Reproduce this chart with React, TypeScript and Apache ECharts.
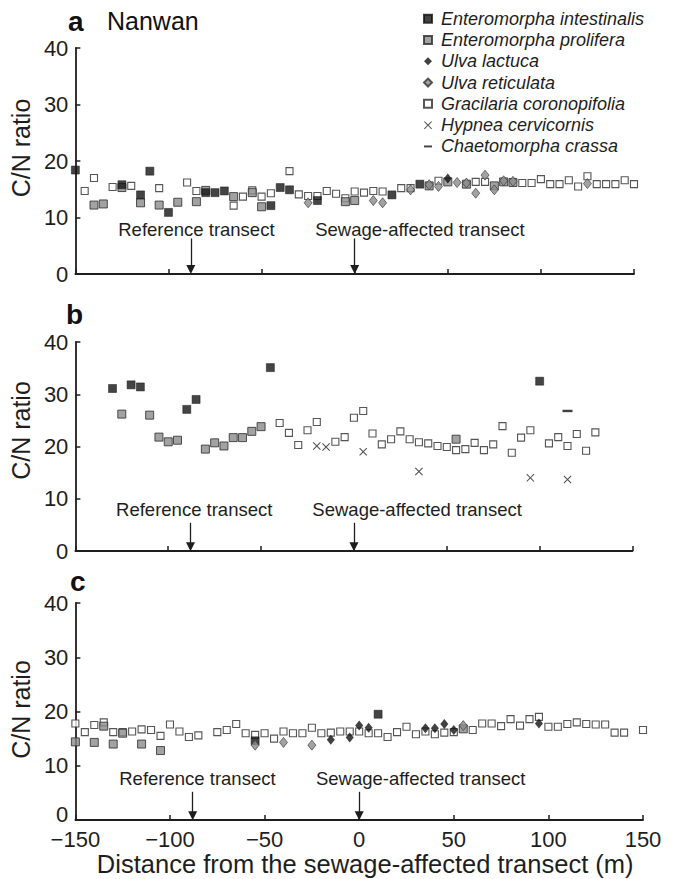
import React, { useEffect, useRef } from "react";
import * as echarts from "echarts";

// ---- categories ----
const SPECIES = [
  "Enteromorpha intestinalis",
  "Enteromorpha prolifera",
  "Ulva lactuca",
  "Ulva reticulata",
  "Gracilaria coronopifolia",
  "Hypnea cervicornis",
  "Chaetomorpha crassa",
];
const PANEL_LETTERS = ["a", "b", "c"];
const SITE_NAME = "Nanwan";
const TRANSECT_LABELS = ["Reference transect", "Sewage-affected transect"];
const TRANSECT_X = [-88, 0]; // m, position of the two transects
const X_TICK_STEP = 50;
const Y_TICK_STEP = 10;
const X_RANGE = [-150, 150];
const Y_RANGE = [0, 40];

// ---- panel a (Nanwan): [distance m, C/N ratio] ----
const A_INTESTINALIS = [[-150, 18.4], [-125, 15.8], [-115, 14.0], [-110, 18.2], [-100, 10.9], [-80, 14.4], [-75, 14.4], [-70, 14.7], [-45, 12.1], [-40, 15.3], [-35, 14.9], [-20, 13.0], [20, 14.0], [35, 15.9]];
const A_PROLIFERA = [[-140, 12.2], [-135, 12.4], [-125, 15.3], [-115, 12.6], [-105, 12.2], [-95, 12.7], [-85, 12.8], [-80, 14.8], [-65, 13.7], [-55, 14.4], [-50, 11.9], [-5, 12.8], [0, 13.0], [40, 15.6], [50, 16.3], [60, 15.9], [75, 15.6], [80, 16.3], [85, 16.2]];
const A_LACTUCA = [[50, 16.9]];
const A_RETICULATA = [[-25, 12.6], [10, 13.0], [15, 12.6], [30, 14.9], [40, 15.8], [45, 15.5], [55, 16.2], [60, 16.1], [65, 14.3], [70, 17.5], [75, 14.9], [80, 16.5], [85, 16.4], [125, 16.0]];
const A_GRACILARIA = [[-145, 14.7], [-140, 17.0], [-130, 15.4], [-120, 15.6], [-105, 15.2], [-90, 16.2], [-85, 14.7], [-65, 12.1], [-60, 13.7], [-55, 14.8], [-50, 13.7], [-45, 14.3], [-35, 18.2], [-30, 14.1], [-25, 13.8], [-20, 13.8], [-15, 14.7], [-10, 14.2], [-5, 13.4], [0, 14.6], [5, 14.4], [10, 14.7], [15, 14.6], [25, 15.2], [30, 15.2], [45, 16.5], [65, 16.3], [70, 16.3], [90, 16.1], [95, 16.1], [100, 16.8], [105, 15.9], [110, 15.9], [115, 16.6], [120, 15.5], [125, 17.3], [130, 15.9], [135, 15.9], [140, 15.9], [145, 16.6], [150, 15.9]];
const A_HYPNEA: number[][] = [];
const A_CHAETOMORPHA: number[][] = [];

// ---- panel b ----
const B_INTESTINALIS = [[-130, 31.1], [-120, 31.8], [-115, 31.4], [-90, 27.1], [-85, 29.0], [-45, 35.1], [100, 32.5]];
const B_PROLIFERA = [[-125, 26.2], [-110, 26.0], [-105, 21.8], [-100, 20.9], [-95, 21.2], [-80, 19.5], [-75, 20.7], [-70, 20.1], [-65, 21.7], [-60, 21.7], [-55, 22.9], [-50, 23.8], [55, 21.4]];
const B_LACTUCA: number[][] = [];
const B_RETICULATA: number[][] = [];
const B_GRACILARIA = [[-40, 24.5], [-35, 22.6], [-30, 20.3], [-25, 23.1], [-20, 24.7], [-10, 20.9], [-5, 21.8], [0, 25.5], [5, 26.8], [10, 22.5], [15, 20.4], [20, 21.4], [25, 22.9], [30, 21.4], [35, 20.8], [40, 20.6], [45, 20.1], [50, 19.9], [55, 19.3], [60, 19.5], [65, 20.7], [70, 19.3], [75, 20.4], [80, 23.9], [85, 18.8], [90, 21.7], [95, 23.1], [105, 20.6], [110, 21.8], [115, 20.1], [120, 22.4], [125, 19.2], [130, 22.7]];
const B_HYPNEA = [[-20, 20.1], [-15, 19.9], [5, 19.0], [35, 15.2], [95, 14.0], [115, 13.7]];
const B_CHAETOMORPHA = [[115, 26.8]];

// ---- panel c ----
const C_INTESTINALIS = [[-55, 14.6], [10, 19.5]];
const C_PROLIFERA = [[-150, 14.4], [-140, 14.3], [-135, 17.3], [-130, 14.0], [-125, 16.0], [-115, 14.0], [-105, 12.8], [55, 16.8]];
const C_LACTUCA = [[-15, 14.8], [-5, 15.2], [0, 17.4], [5, 17.0], [35, 16.9], [40, 16.9], [45, 17.7], [50, 16.6], [95, 17.8]];
const C_RETICULATA = [[-55, 13.8], [-40, 14.3], [-25, 13.8], [55, 17.4]];
const C_GRACILARIA = [[-150, 17.8], [-145, 16.2], [-140, 17.5], [-135, 18.0], [-130, 16.2], [-125, 16.2], [-120, 16.3], [-115, 16.7], [-110, 16.6], [-105, 15.5], [-100, 17.6], [-95, 16.3], [-90, 15.3], [-85, 15.6], [-75, 16.2], [-70, 16.6], [-65, 17.7], [-60, 16.0], [-55, 15.7], [-50, 16.0], [-45, 15.0], [-40, 16.3], [-35, 16.0], [-30, 16.0], [-25, 17.0], [-20, 16.0], [-15, 16.1], [-10, 16.3], [-5, 16.3], [0, 16.3], [5, 16.0], [10, 16.0], [15, 15.3], [20, 16.2], [25, 17.2], [30, 15.8], [35, 16.3], [40, 15.8], [45, 16.1], [50, 16.2], [60, 16.6], [65, 17.8], [70, 17.8], [75, 17.3], [80, 18.6], [85, 17.4], [90, 18.6], [95, 19.0], [100, 17.2], [105, 17.2], [110, 17.7], [115, 18.0], [120, 17.7], [125, 17.6], [130, 17.6], [135, 16.1], [140, 16.1], [150, 16.6]];
const C_HYPNEA: number[][] = [];
const C_CHAETOMORPHA: number[][] = [];

// per panel, in SPECIES order
const PANEL_DATA = [
  [A_INTESTINALIS, A_PROLIFERA, A_LACTUCA, A_RETICULATA, A_GRACILARIA, A_HYPNEA, A_CHAETOMORPHA],
  [B_INTESTINALIS, B_PROLIFERA, B_LACTUCA, B_RETICULATA, B_GRACILARIA, B_HYPNEA, B_CHAETOMORPHA],
  [C_INTESTINALIS, C_PROLIFERA, C_LACTUCA, C_RETICULATA, C_GRACILARIA, C_HYPNEA, C_CHAETOMORPHA],
];

// ---- layout ----
const FONT = "'Liberation Sans', Arial, Helvetica, sans-serif";
const INK = "#1e1e1e";
const GRIDS = [
  { left: 69.5, top: 48, width: 564.5, height: 226 },
  { left: 66.5, top: 342, width: 566, height: 209 },
  { left: 71.5, top: 603, width: 571.5, height: 217 },
];
// where the transect labels and arrows sit in data units, per panel
const ANNOT = [
  { labelY: 7.9, refLabelX: -85, sewLabelX: 35, arrowTop: 6.3 },
  { labelY: 8.0, refLabelX: -86, sewLabelX: 34, arrowTop: 5.4 },
  { labelY: 7.7, refLabelX: -85.5, sewLabelX: 32.5, arrowTop: 5.2 },
];
const NAME_SHIFT = [26, 32, 4];

const CROSS =
  "path://M0,0.9L0.9,0L5,4.1L9.1,0L10,0.9L5.9,5L10,9.1L9.1,10L5,5.9L0.9,10L0,9.1L4.1,5Z";
const DASH = "path://M0,0H10V2.4H0Z";

const STYLES: Record<string, any> = {
  "Enteromorpha intestinalis": { symbol: "rect", symbolSize: 8, itemStyle: { color: "#151515", borderColor: "#111", borderWidth: 0.6 }, z: 4 },
  "Enteromorpha prolifera": { symbol: "rect", symbolSize: 8, itemStyle: { color: "#8b8b8b", borderColor: "#2a2a2a", borderWidth: 1 }, z: 3 },
  "Ulva lactuca": { symbol: "diamond", symbolSize: [8, 10], itemStyle: { color: "#111" }, z: 6 },
  "Ulva reticulata": { symbol: "diamond", symbolSize: [8, 10], itemStyle: { color: "#8b8b8b", borderColor: "#333", borderWidth: 0.8 }, z: 5 },
  "Gracilaria coronopifolia": { symbol: "rect", symbolSize: 7, itemStyle: { color: "#ffffff", borderColor: "#2a2a2a", borderWidth: 1.1 }, z: 2 },
  "Hypnea cervicornis": { symbol: CROSS, symbolSize: 8, itemStyle: { color: "#222" }, z: 6 },
  "Chaetomorpha crassa": { symbol: "rect", symbolSize: [10, 2.4], itemStyle: { color: "#111" }, z: 6 },
};

const minusFmt = (v: number) => (v < 0 ? "\u2212" + Math.abs(v) : String(v));

function buildOption() {
  const grid = GRIDS.map((g) => ({ ...g, containLabel: false }));
  const xAxis = GRIDS.map((_, i) => ({
    type: "value",
    gridIndex: i,
    min: X_RANGE[0],
    max: X_RANGE[1],
    interval: X_TICK_STEP,
    axisLine: { show: true, onZero: false, lineStyle: { color: INK, width: 1.8 } },
    axisTick: { show: true, inside: true, length: 5, lineStyle: { color: INK, width: 1.5 } },
    axisLabel: { show: i === 2, fontSize: 22, lineHeight: 18, color: INK, fontFamily: FONT, margin: 10, formatter: minusFmt },
    splitLine: { show: false },
    name: i === 2 ? "Distance from the sewage-affected transect (m)" : "",
    nameLocation: "middle",
    nameGap: 31,
    nameTextStyle: { fontSize: 25.5, color: INK, fontFamily: FONT, padding: [0, 0, 0, 12] },
  }));
  const yAxis = GRIDS.map((_, i) => ({
    type: "value",
    gridIndex: i,
    min: Y_RANGE[0],
    max: Y_RANGE[1],
    interval: Y_TICK_STEP,
    axisLine: { show: true, onZero: false, lineStyle: { color: INK, width: 1.8 } },
    axisTick: { show: true, inside: true, length: 5, lineStyle: { color: INK, width: 1.5 } },
    axisLabel: {
      fontSize: 22,
      lineHeight: 16,
      color: INK,
      fontFamily: FONT,
      margin: 7,
      // the bottom label of the lowest panel is lifted to clear the x labels
      formatter: (v: number) => (i === 2 && v === 0 ? "{low|0}" : String(v)),
      rich: { low: { fontSize: 22, lineHeight: 16, color: INK, fontFamily: FONT, padding: [0, 0, 11, 0] } },
    },
    splitLine: { show: false },
    name: "C/N ratio",
    nameLocation: "middle",
    nameGap: 36,
    nameTextStyle: { fontSize: 25, color: INK, fontFamily: FONT, padding: [0, 0, 0, NAME_SHIFT[i]] },
  }));

  const drawOrder = [4, 1, 0, 3, 2, 5, 6];
  const series: any[] = [];
  PANEL_DATA.forEach((panel, p) => {
    drawOrder.forEach((s) => {
      const name = SPECIES[s];
      series.push({
        type: "scatter",
        name,
        xAxisIndex: p,
        yAxisIndex: p,
        data: panel[s],
        ...STYLES[name],
      });
    });
    const a = ANNOT[p];
    series.push({
      type: "scatter",
      name: "transects-" + p,
      xAxisIndex: p,
      yAxisIndex: p,
      data: [],
      markLine: {
        silent: true,
        animation: false,
        symbol: ["none", "triangle"],
        symbolSize: 9,
        lineStyle: { color: INK, width: 1.3, type: "solid" },
        itemStyle: { color: INK },
        label: { show: false },
        data: TRANSECT_X.map((x) => [
          { coord: [x, a.arrowTop] },
          { coord: [x, 0.8] },
        ]),
      },
      markPoint: {
        silent: true,
        animation: false,
        symbol: "rect",
        symbolSize: 1,
        itemStyle: { color: "rgba(0,0,0,0)" },
        label: {
          show: true,
          position: "inside",
          formatter: (d: any) => d.name,
          fontSize: 18.5,
          color: INK,
          fontFamily: FONT,
        },
        data: [
          { name: TRANSECT_LABELS[0], coord: [a.refLabelX, a.labelY] },
          { name: TRANSECT_LABELS[1], coord: [a.sewLabelX, a.labelY] },
        ],
      },
    });
  });

  return {
    animation: false,
    backgroundColor: "#ffffff",
    textStyle: { fontFamily: FONT },
    grid,
    xAxis,
    yAxis,
    legend: {
      orient: "vertical",
      left: 418,
      top: 3,
      itemWidth: 8,
      itemHeight: 8,
      itemGap: 0,
      selectedMode: false,
      textStyle: { fontSize: 18, fontStyle: "italic", color: INK, fontFamily: FONT, lineHeight: 21.3, padding: [0, 0, 0, 4] },
      data: SPECIES.map((name) =>
        name === "Chaetomorpha crassa" ? { name, icon: DASH } : { name }
      ),
    },
    graphic: [
      { type: "text", left: 68, top: 7, style: { text: PANEL_LETTERS[0], font: `bold 28px ${FONT}`, fill: "#111" } },
      { type: "text", left: 107, top: 8, style: { text: SITE_NAME, font: `25px ${FONT}`, fill: "#111" } },
      { type: "text", left: 66, top: 300, style: { text: PANEL_LETTERS[1], font: `bold 28px ${FONT}`, fill: "#111" } },
      { type: "text", left: 70, top: 567, style: { text: PANEL_LETTERS[2], font: `bold 28px ${FONT}`, fill: "#111" } },
    ],
    series,
  };
}

export default function App() {
  const ref = useRef<HTMLDivElement>(null);
  useEffect(() => {
    if (!ref.current) return;
    const chart = echarts.init(ref.current, null, { renderer: "svg" });
    chart.setOption(buildOption() as any);
    return () => chart.dispose();
  }, []);
  return (
    <div
      ref={ref}
      style={{ position: "absolute", left: 0, top: 0, width: 674, height: 879, background: "#fff" }}
    />
  );
}
